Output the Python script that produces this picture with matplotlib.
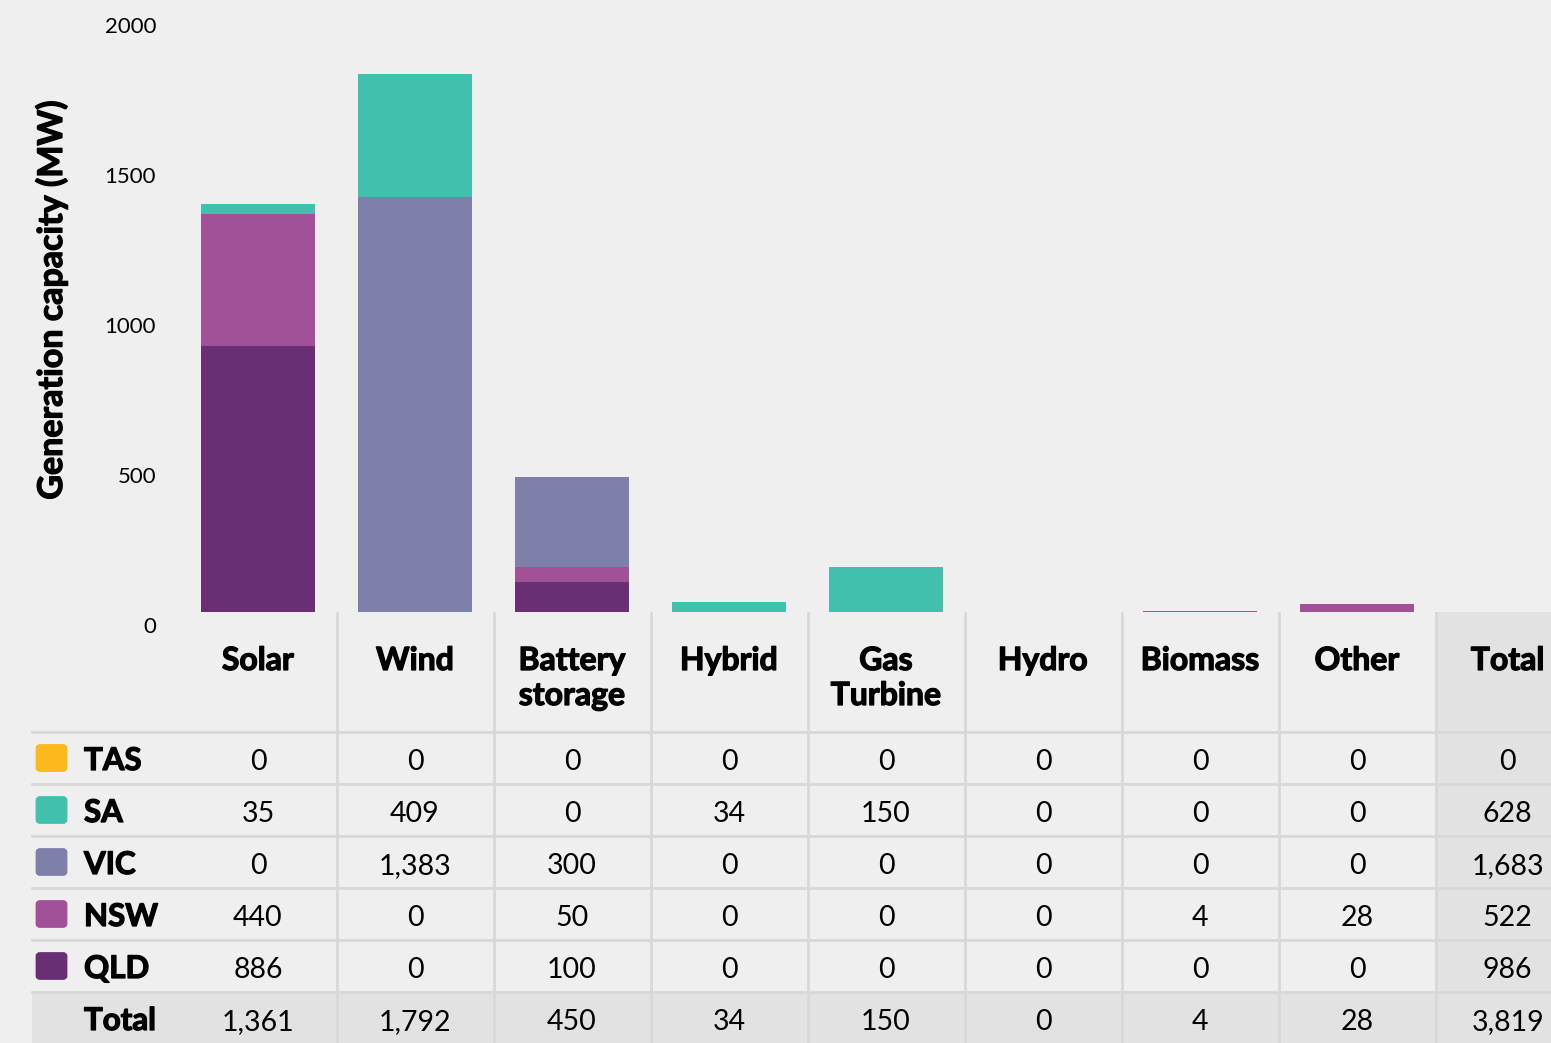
import numpy as np
import matplotlib
matplotlib.use("Agg")
import matplotlib.pyplot as plt
import matplotlib.patheffects as pe
from matplotlib.patches import FancyBboxPatch, Rectangle
from matplotlib.transforms import ScaledTranslation

plt.rcParams['font.family'] = ['Lato', 'DejaVu Sans']

# data
categories = ['Solar', 'Wind', 'Battery\nstorage', 'Hybrid', 'Gas\nTurbine',
              'Hydro', 'Biomass', 'Other']
states = ['TAS', 'SA', 'VIC', 'NSW', 'QLD']
tas = [0, 0, 0, 0, 0, 0, 0, 0]
sa = [35, 409, 0, 34, 150, 0, 0, 0]
vic = [0, 1383, 300, 0, 0, 0, 0, 0]
nsw = [440, 0, 50, 0, 0, 0, 4, 28]
qld = [886, 0, 100, 0, 0, 0, 0, 0]
colors = ['#fdb81e', '#41c1ad', '#7e7fab', '#a25097', '#6a2e74']
yticks = [0, 500, 1000, 1500, 2000]

values = [tas, sa, vic, nsw, qld]
BG = '#efefef'
GRID = '#d8d8d8'
TOTAL_BG = '#e2e2e2'
# thicken the bold text a little
HEAVY = dict(fontweight='bold', path_effects=[pe.withStroke(linewidth=0.9, foreground='black')])

W, H = 1551, 1043
col0, colw = 258, 157


def px2cat(px):
    return (px - col0) / colw


fig = plt.figure(figsize=(W / 100, H / 100), dpi=100)
fig.patch.set_facecolor(BG)

# bar chart
ax_left, ax_bot, ax_top = 170, 612, 12
ax = fig.add_axes([ax_left / W, (H - ax_bot) / H, 1 - ax_left / W, (ax_bot - ax_top) / H])
ax.set_facecolor(BG)
x = np.arange(len(categories))
bottom = np.zeros(len(categories))
for name, vals, c in reversed(list(zip(states, values, colors))):
    ax.bar(x, vals, bottom=bottom, width=0.726, color=c, linewidth=0)
    bottom += np.array(vals)
ax.set_xlim(px2cat(ax_left), px2cat(W))
ax.set_ylim(0, 2000)
ax.set_xticks([])
ax.set_yticks(yticks)
ax.set_yticklabels([str(t) for t in yticks], fontsize=16)
ax.tick_params(axis='y', length=0, pad=10)
for lab in ax.get_yticklabels():
    lab.set_transform(lab.get_transform() + ScaledTranslation(0, -13 / 100, fig.dpi_scale_trans))
for s in ax.spines.values():
    s.set_visible(False)
ax.set_ylabel('Generation capacity (MW)', fontsize=24.5, **HEAVY)
ax.yaxis.set_label_coords((68 - ax_left) / (W - ax_left), (ax_bot - 300) / (ax_bot - ax_top))

# table below
tab_h = H - ax_bot
tb = fig.add_axes([0, 0, 1, tab_h / H])
tb.set_xlim(px2cat(0), px2cat(W))
tb.set_ylim(tab_h, 0)
tb.axis('off')

head_h, row_h = 120, 52
left = px2cat(32)
right = px2cat(W)
n = len(categories)

# total row / column shading
tb.add_patch(Rectangle((left, head_h + row_h * len(states)), right - left, row_h,
                       color=TOTAL_BG, lw=0, zorder=0))
tb.add_patch(Rectangle((n - 0.5, 0), right - (n - 0.5), tab_h, color=TOTAL_BG, lw=0, zorder=0))

for k in range(len(states) + 1):
    y = head_h + row_h * k
    tb.plot([left, right], [y, y], color=GRID, lw=2, zorder=1)
for i in range(n):
    tb.plot([i + 0.5, i + 0.5], [0, tab_h], color=GRID, lw=2, zorder=1)

# header
for i, cat in enumerate(categories + ['Total']):
    xc = i if i < n else 7.96
    for j, line in enumerate(cat.split('\n')):
        tb.text(xc, 58 + 35 * j, line, ha='center', va='baseline', fontsize=23, **HEAVY)

# rows
totals_col = np.sum(values, axis=0)
sq = 29
num_fs = 20.5
for k, (name, vals, c) in enumerate(zip(states, values, colors)):
    yc = head_h + row_h * k + row_h / 2
    sx0, sx1 = px2cat(37), px2cat(66)
    tb.add_patch(FancyBboxPatch((sx0, yc - sq / 2 + 2), sx1 - sx0, sq - 4,
                                boxstyle='round,pad=0,rounding_size=0.02',
                                mutation_aspect=sq / (sx1 - sx0) / 1.2,
                                facecolor=c, edgecolor=c, lw=2, zorder=2))
    tb.text(px2cat(84), yc + 12, name, ha='left', va='baseline', fontsize=22.5, **HEAVY)
    for i, v in enumerate(vals):
        tb.text(i, yc + 12, f'{v:,}', ha='center', va='baseline', fontsize=num_fs)
    tb.text(7.96, yc + 12, f'{sum(vals):,}', ha='center', va='baseline', fontsize=num_fs)

yc = head_h + row_h * len(states) + row_h / 2
tb.text(px2cat(84), yc + 12, 'Total', ha='left', va='baseline', fontsize=22.5, **HEAVY)
for i, v in enumerate(totals_col):
    tb.text(i, yc + 12, f'{v:,}', ha='center', va='baseline', fontsize=num_fs)
tb.text(7.96, yc + 12, f'{int(totals_col.sum()):,}', ha='center', va='baseline', fontsize=num_fs)

fig.savefig('out.png', dpi=100, facecolor=BG)
